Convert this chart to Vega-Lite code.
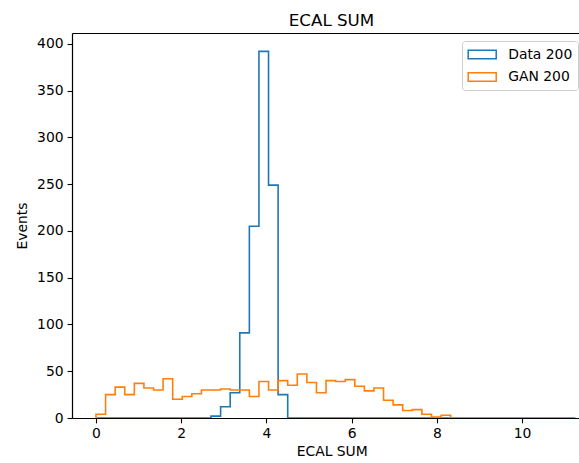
{
  "$schema": "https://vega.github.io/schema/vega-lite/v6.json",
  "autosize": "none",
  "width": 507,
  "height": 385,
  "padding": {"left": 72, "top": 33, "right": 0, "bottom": 45},
  "background": "white",
  "config": {
    "view": {"stroke": null},
    "font": "DejaVu Sans",
    "axis": {
      "labelFont": "DejaVu Sans", "labelFontSize": 13.9, "labelColor": "black",
      "titleFont": "DejaVu Sans", "titleFontSize": 13.9, "titleFontWeight": "normal", "titleColor": "black",
      "domainColor": "black", "domainWidth": 1.2, "tickColor": "black", "tickWidth": 1.1, "tickSize": 4.9,
      "labelPadding": 4, "grid": false, "zindex": 1
    },
    "legend": {
      "labelFont": "DejaVu Sans", "labelFontSize": 13.9, "labelColor": "black",
      "symbolType": "M-1.92,-0.58H1.92V0.58H-1.92Z", "symbolSize": 213, "symbolStrokeWidth": 1.5,
      "symbolFillColor": "transparent", "symbolOffset": 6.7, "labelOffset": 17.5, "rowPadding": 6.5,
      "padding": 5, "fillColor": "white", "strokeColor": "#cccccc", "cornerRadius": 3
    }
  },
  "title": {
    "text": "ECAL SUM", "font": "DejaVu Sans", "fontSize": 16.7, "fontWeight": "normal", "color": "black",
    "anchor": "middle", "dx": 6, "dy": 18, "offset": 4, "baseline": "bottom"
  },
  "data": {"values": [
    {"series": "Data 200", "i": 0, "edge": 0, "count": 0},
    {"series": "Data 200", "i": 1, "edge": 0, "count": 0},
    {"series": "Data 200", "i": 2, "edge": 0.225, "count": 0},
    {"series": "Data 200", "i": 3, "edge": 0.45, "count": 0},
    {"series": "Data 200", "i": 4, "edge": 0.675, "count": 0},
    {"series": "Data 200", "i": 5, "edge": 0.9, "count": 0},
    {"series": "Data 200", "i": 6, "edge": 1.125, "count": 0},
    {"series": "Data 200", "i": 7, "edge": 1.35, "count": 0},
    {"series": "Data 200", "i": 8, "edge": 1.575, "count": 0},
    {"series": "Data 200", "i": 9, "edge": 1.8, "count": 0},
    {"series": "Data 200", "i": 10, "edge": 2.025, "count": 0},
    {"series": "Data 200", "i": 11, "edge": 2.25, "count": 0},
    {"series": "Data 200", "i": 12, "edge": 2.475, "count": 0},
    {"series": "Data 200", "i": 13, "edge": 2.7, "count": 2},
    {"series": "Data 200", "i": 14, "edge": 2.925, "count": 12},
    {"series": "Data 200", "i": 15, "edge": 3.15, "count": 27},
    {"series": "Data 200", "i": 16, "edge": 3.375, "count": 91},
    {"series": "Data 200", "i": 17, "edge": 3.6, "count": 205},
    {"series": "Data 200", "i": 18, "edge": 3.825, "count": 392},
    {"series": "Data 200", "i": 19, "edge": 4.05, "count": 249},
    {"series": "Data 200", "i": 20, "edge": 4.275, "count": 25},
    {"series": "Data 200", "i": 21, "edge": 4.5, "count": 0},
    {"series": "Data 200", "i": 22, "edge": 4.725, "count": 0},
    {"series": "Data 200", "i": 23, "edge": 4.95, "count": 0},
    {"series": "Data 200", "i": 24, "edge": 5.175, "count": 0},
    {"series": "Data 200", "i": 25, "edge": 5.4, "count": 0},
    {"series": "Data 200", "i": 26, "edge": 5.625, "count": 0},
    {"series": "Data 200", "i": 27, "edge": 5.85, "count": 0},
    {"series": "Data 200", "i": 28, "edge": 6.075, "count": 0},
    {"series": "Data 200", "i": 29, "edge": 6.3, "count": 0},
    {"series": "Data 200", "i": 30, "edge": 6.525, "count": 0},
    {"series": "Data 200", "i": 31, "edge": 6.75, "count": 0},
    {"series": "Data 200", "i": 32, "edge": 6.975, "count": 0},
    {"series": "Data 200", "i": 33, "edge": 7.2, "count": 0},
    {"series": "Data 200", "i": 34, "edge": 7.425, "count": 0},
    {"series": "Data 200", "i": 35, "edge": 7.65, "count": 0},
    {"series": "Data 200", "i": 36, "edge": 7.875, "count": 0},
    {"series": "Data 200", "i": 37, "edge": 8.1, "count": 0},
    {"series": "Data 200", "i": 38, "edge": 8.325, "count": 0},
    {"series": "Data 200", "i": 39, "edge": 8.55, "count": 0},
    {"series": "Data 200", "i": 40, "edge": 8.775, "count": 0},
    {"series": "Data 200", "i": 41, "edge": 9.0, "count": 0},
    {"series": "Data 200", "i": 42, "edge": 9.225, "count": 0},
    {"series": "Data 200", "i": 43, "edge": 9.45, "count": 0},
    {"series": "Data 200", "i": 44, "edge": 9.675, "count": 0},
    {"series": "Data 200", "i": 45, "edge": 9.9, "count": 0},
    {"series": "Data 200", "i": 46, "edge": 10.125, "count": 0},
    {"series": "Data 200", "i": 47, "edge": 10.35, "count": 0},
    {"series": "Data 200", "i": 48, "edge": 10.575, "count": 0},
    {"series": "Data 200", "i": 49, "edge": 10.8, "count": 0},
    {"series": "Data 200", "i": 50, "edge": 11.025, "count": 0},
    {"series": "Data 200", "i": 51, "edge": 11.25, "count": 0},
    {"series": "GAN 200", "i": 0, "edge": 0, "count": 0},
    {"series": "GAN 200", "i": 1, "edge": 0, "count": 4},
    {"series": "GAN 200", "i": 2, "edge": 0.225, "count": 25},
    {"series": "GAN 200", "i": 3, "edge": 0.45, "count": 33},
    {"series": "GAN 200", "i": 4, "edge": 0.675, "count": 25},
    {"series": "GAN 200", "i": 5, "edge": 0.9, "count": 37},
    {"series": "GAN 200", "i": 6, "edge": 1.125, "count": 32},
    {"series": "GAN 200", "i": 7, "edge": 1.35, "count": 30},
    {"series": "GAN 200", "i": 8, "edge": 1.575, "count": 42},
    {"series": "GAN 200", "i": 9, "edge": 1.8, "count": 20},
    {"series": "GAN 200", "i": 10, "edge": 2.025, "count": 23},
    {"series": "GAN 200", "i": 11, "edge": 2.25, "count": 26},
    {"series": "GAN 200", "i": 12, "edge": 2.475, "count": 30},
    {"series": "GAN 200", "i": 13, "edge": 2.7, "count": 30},
    {"series": "GAN 200", "i": 14, "edge": 2.925, "count": 31},
    {"series": "GAN 200", "i": 15, "edge": 3.15, "count": 30},
    {"series": "GAN 200", "i": 16, "edge": 3.375, "count": 30},
    {"series": "GAN 200", "i": 17, "edge": 3.6, "count": 23},
    {"series": "GAN 200", "i": 18, "edge": 3.825, "count": 39},
    {"series": "GAN 200", "i": 19, "edge": 4.05, "count": 30},
    {"series": "GAN 200", "i": 20, "edge": 4.275, "count": 40},
    {"series": "GAN 200", "i": 21, "edge": 4.5, "count": 35},
    {"series": "GAN 200", "i": 22, "edge": 4.725, "count": 47},
    {"series": "GAN 200", "i": 23, "edge": 4.95, "count": 38},
    {"series": "GAN 200", "i": 24, "edge": 5.175, "count": 27},
    {"series": "GAN 200", "i": 25, "edge": 5.4, "count": 40},
    {"series": "GAN 200", "i": 26, "edge": 5.625, "count": 39},
    {"series": "GAN 200", "i": 27, "edge": 5.85, "count": 41},
    {"series": "GAN 200", "i": 28, "edge": 6.075, "count": 34},
    {"series": "GAN 200", "i": 29, "edge": 6.3, "count": 29},
    {"series": "GAN 200", "i": 30, "edge": 6.525, "count": 32},
    {"series": "GAN 200", "i": 31, "edge": 6.75, "count": 19},
    {"series": "GAN 200", "i": 32, "edge": 6.975, "count": 14},
    {"series": "GAN 200", "i": 33, "edge": 7.2, "count": 8},
    {"series": "GAN 200", "i": 34, "edge": 7.425, "count": 9},
    {"series": "GAN 200", "i": 35, "edge": 7.65, "count": 4},
    {"series": "GAN 200", "i": 36, "edge": 7.875, "count": 1},
    {"series": "GAN 200", "i": 37, "edge": 8.1, "count": 3},
    {"series": "GAN 200", "i": 38, "edge": 8.325, "count": 0},
    {"series": "GAN 200", "i": 39, "edge": 8.55, "count": 0},
    {"series": "GAN 200", "i": 40, "edge": 8.775, "count": 0},
    {"series": "GAN 200", "i": 41, "edge": 9.0, "count": 0},
    {"series": "GAN 200", "i": 42, "edge": 9.225, "count": 0},
    {"series": "GAN 200", "i": 43, "edge": 9.45, "count": 0},
    {"series": "GAN 200", "i": 44, "edge": 9.675, "count": 0},
    {"series": "GAN 200", "i": 45, "edge": 9.9, "count": 0},
    {"series": "GAN 200", "i": 46, "edge": 10.125, "count": 0},
    {"series": "GAN 200", "i": 47, "edge": 10.35, "count": 0},
    {"series": "GAN 200", "i": 48, "edge": 10.575, "count": 0},
    {"series": "GAN 200", "i": 49, "edge": 10.8, "count": 0},
    {"series": "GAN 200", "i": 50, "edge": 11.025, "count": 0},
    {"series": "GAN 200", "i": 51, "edge": 11.25, "count": 0}
  ]},
  "layer": [
    {
      "transform": [{"filter": "datum.series === 'Data 200'"}],
      "mark": {"type": "line", "interpolate": "step-after", "strokeWidth": 1.6, "clip": true},
      "encoding": {
        "x": {"field": "edge", "type": "quantitative",
          "scale": {"domain": [-0.5634, 11.338], "nice": false, "zero": false},
          "axis": {"values": [0, 2, 4, 6, 8, 10], "title": "ECAL SUM", "titleX": 259.7, "titleY": 37, "titleBaseline": "alphabetic", "titleAlign": "center"}},
        "y": {"field": "count", "type": "quantitative",
          "scale": {"domain": [0, 411.6], "nice": false},
          "axis": {"values": [0, 50, 100, 150, 200, 250, 300, 350, 400], "title": "Events", "titleX": -46, "titleBaseline": "alphabetic"}},
        "order": {"field": "i", "type": "quantitative"},
        "color": {"field": "series", "type": "nominal",
          "scale": {"domain": ["Data 200", "GAN 200"], "range": ["#1f77b4", "#ff7f0e"]},
          "legend": {"title": null, "orient": "none", "legendX": 390, "legendY": 8}}
      }
    },
    {
      "transform": [{"filter": "datum.series === 'GAN 200'"}],
      "mark": {"type": "line", "interpolate": "step-after", "strokeWidth": 1.6, "clip": true},
      "encoding": {
        "x": {"field": "edge", "type": "quantitative",
          "axis": {"orient": "top", "labels": false, "ticks": false, "title": null}},
        "y": {"field": "count", "type": "quantitative"},
        "order": {"field": "i", "type": "quantitative"},
        "color": {"field": "series", "type": "nominal"}
      }
    }
  ],
  "resolve": {"axis": {"x": "independent"}}
}
